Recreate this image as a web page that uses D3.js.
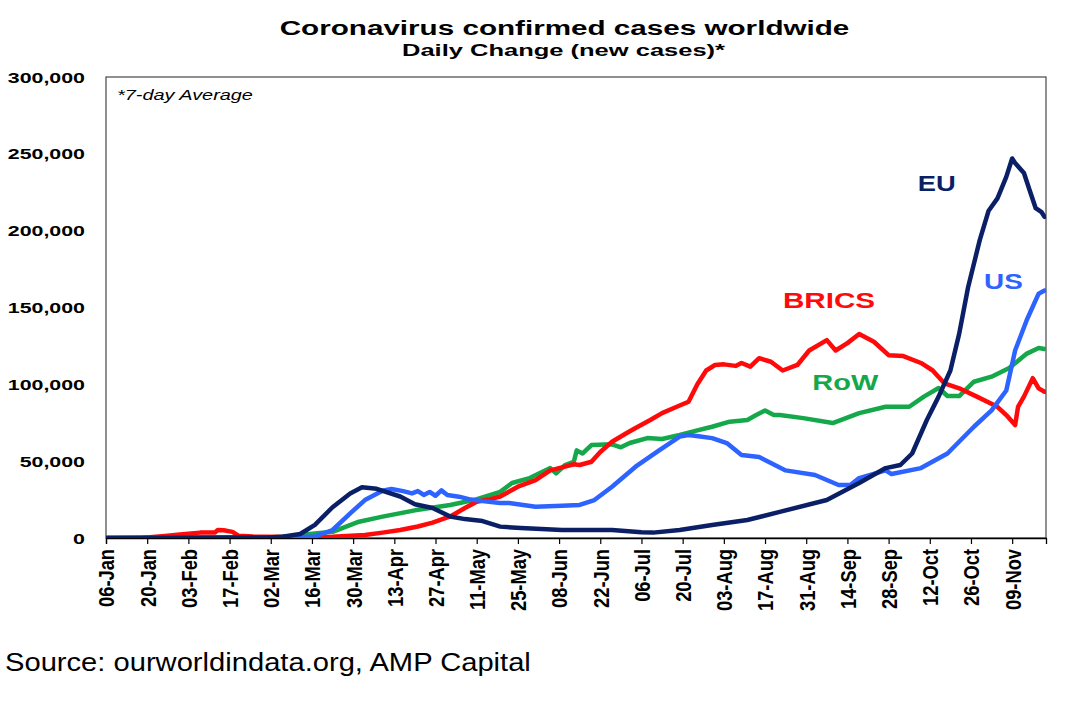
<!DOCTYPE html>
<html><head><meta charset="utf-8">
<script src="https://cdn.jsdelivr.net/npm/d3@7/dist/d3.min.js"></script>
<style>
body{margin:0;background:#fff;}
svg{display:block;font-family:"Liberation Sans",Arial,sans-serif;}
</style>
</head><body>
<svg id="chart" width="1084" height="701"></svg>
<script>
// ---- Data (days counted from 06-Jan-2020; 7-day average of new cases) ----
const tickDays   = [0,14,28,42,56,70,84,98,112,126,140,154,168,182,196,210,224,238,252,266,280,294,308];
const tickLabels = ["06-Jan","20-Jan","03-Feb","17-Feb","02-Mar","16-Mar","30-Mar","13-Apr","27-Apr","11-May","25-May","08-Jun","22-Jun","06-Jul","20-Jul","03-Aug","17-Aug","31-Aug","14-Sep","28-Sep","12-Oct","26-Oct","09-Nov"];
const yTicks = [0,50000,100000,150000,200000,250000,300000];

const euDays   = [0,55,60,66,71,77,83,87,92,100,105,111,117,122,128,134,141,155,172,182,186,195,206,218,229,245,256,265,270,274,279,283,287,290,293,297,300,303,306,308,309,312,314,316,318,319];
const euValues = [0,300,800,2600,8500,20000,29000,33000,32000,27000,22000,19500,14000,12300,11000,7400,6500,5200,5200,3800,3500,5200,8500,11700,17000,24700,35800,45500,47500,55000,76800,92000,109000,133000,163000,194000,213000,221000,235000,247000,244000,237500,226000,214600,212000,209000];

const usDays   = [0,40,65,71,77,83,88,94,97,101,104,106,108,110,112,114,116,120,124,128,134,137,146,155,161,166,172,180,188,195,198,202,206,211,216,222,231,241,249,253,256,265,267,277,286,295,301,306,309,313,317,319];
const usValues = [0,300,500,1000,5200,16000,24700,30800,31900,30500,29000,30500,28000,30000,27500,31000,28000,26900,25000,24000,22800,22800,20400,21000,21500,24700,33400,46400,57000,66000,67000,66000,65000,61800,54000,52700,44000,41000,34500,34500,39000,44000,41600,45500,55000,72400,83000,96000,122000,142000,159000,161000];

const rowDays   = [0,55,62,66,77,86,94,105,117,125,134,138,144,151,153,156,159,160,162,165,172,175,178,184,189,195,201,206,212,218,221,224,227,229,237,247,256,265,273,278,283,286,290,295,301,307,313,317,319];
const rowValues = [0,300,1000,2000,4000,10600,13900,18000,21500,24700,30000,35800,39000,45500,42000,47500,49600,57000,55000,60500,61000,59000,61800,65000,64400,67000,70000,72400,75700,76800,80000,83000,80000,80000,78000,74800,81300,85400,85400,92000,97600,92400,92400,101700,105000,110600,120000,123600,123000];

const bricsDays   = [0,12,20,26,32,37,38,40,43,45,50,54,70,77,88,94,100,106,111,117,122,126,130,134,140,146,151,155,159,161,165,168,172,177,180,185,189,194,198,201,204,207,210,214,216,219,222,226,230,235,239,245,248,252,256,261,266,271,277,281,285,290,296,303,306,309,310,312,315,317,319];
const bricsValues = [0,0,1300,2500,3500,3500,5200,5000,4000,1500,900,800,500,800,2000,3500,5200,7500,10000,14000,19500,23600,25000,27000,33400,37700,44000,46000,48000,47500,49600,56000,62600,68300,71600,76800,81300,85400,88700,100000,109000,112600,113000,112000,113900,111500,117000,114700,109000,112600,122000,128800,122000,126800,132700,127700,119000,118400,113900,109000,100600,97400,92000,85400,80000,73500,85400,92000,104000,97400,95200];

const seriesNames = ["RoW","BRICS","US","EU"];

// ---- Layout / style ----
const L = 106, R = 1046, T = 77, B = 538;
const colors = {EU:"#0B1F66", US:"#2D63FF", RoW:"#15A84A", BRICS:"#FF0A0A"};
const svg = d3.select("#chart");

const x = d3.scaleLinear().domain([0, 319.5]).range([L, R]);
const y = d3.scaleLinear().domain([0, 300000]).range([B, T]);

function fit(sel, w){
  sel.each(function(){
    const n = this.getComputedTextLength();
    const t = d3.select(this);
    const tx = +t.attr("data-x"), ty = +t.attr("data-y");
    t.attr("transform", `translate(${tx},${ty}) scale(${w/n},1)`);
  });
}
function txt(xp, yp, s, size, weight, anchor, fill, style){
  return svg.append("text").attr("data-x", xp).attr("data-y", yp)
    .attr("transform", `translate(${xp},${yp})`)
    .attr("text-anchor", anchor).attr("font-size", size).attr("font-weight", weight)
    .attr("fill", fill || "#000").attr("font-style", style || "normal").text(s);
}

// Titles
fit(txt(564.5, 35, "Coronavirus confirmed cases worldwide", 21, "bold", "middle"), 570);
fit(txt(563.5, 56, "Daily Change (new cases)*", 16.5, "bold", "middle"), 323);

// Plot frame
svg.append("rect").attr("x", L).attr("y", T).attr("width", R-L).attr("height", B-T)
  .attr("fill", "none").attr("stroke", "#555").attr("stroke-width", 1.3);

// Y axis labels
yTicks.forEach(v => {
  txt(85, y(v) + 5.5, d3.format(",")(v), 15.5, "bold", "end")
    .attr("transform", `translate(85,${y(v)+5.5}) scale(1.38,1)`);
});

// X axis
const xAxis = d3.axisBottom(x).tickValues(tickDays).tickSize(6).tickFormat((d,i) => tickLabels[i]);
const gx = svg.append("g").attr("transform", `translate(0,${B})`).call(xAxis);
gx.select(".domain").attr("stroke", "#000").attr("stroke-width", 1.3);
gx.selectAll(".tick line").attr("stroke", "#000").attr("stroke-width", 1.2);
gx.selectAll(".tick text")
  .attr("font-family", '"Liberation Sans",Arial,sans-serif')
  .attr("font-size", 18.3).attr("font-weight", "bold").attr("fill", "#000")
  .attr("text-anchor", "end").attr("x", 0).attr("y", 0).attr("dy", "0.36em")
  .attr("transform", "translate(0,11) scale(1.2,1) rotate(-90)");

// Clip
svg.append("clipPath").attr("id", "clip").append("rect")
  .attr("x", L).attr("y", T).attr("width", R-L).attr("height", B-T);

const line = d3.line().x(d => x(d[0])).y(d => y(d[1]));
const data = {
  EU: d3.zip(euDays, euValues),
  US: d3.zip(usDays, usValues),
  RoW: d3.zip(rowDays, rowValues),
  BRICS: d3.zip(bricsDays, bricsValues)
};
const gl = svg.append("g").attr("clip-path", "url(#clip)");
seriesNames.forEach(k => {
  gl.append("path").datum(data[k]).attr("d", line)
    .attr("fill", "none").attr("stroke", colors[k]).attr("stroke-width", 4.5)
    .attr("stroke-linejoin", "round").attr("stroke-linecap", "round");
});

// Series labels
fit(txt(936.7, 191, "EU", 21.5, "bold", "middle", colors.EU), 38);
fit(txt(1003.4, 288.5, "US", 21.5, "bold", "middle", colors.US), 38.7);
fit(txt(829, 308, "BRICS", 21.5, "bold", "middle", colors.BRICS), 92.3);
fit(txt(845.3, 390, "RoW", 21.5, "bold", "middle", colors.RoW), 66);

// Note and source
fit(txt(117, 100, "*7-day Average", 14, "normal", "start", "#000", "italic"), 136);
fit(txt(5, 671, "Source: ourworldindata.org, AMP Capital", 26, "normal", "start"), 526);
</script>
</body></html>
